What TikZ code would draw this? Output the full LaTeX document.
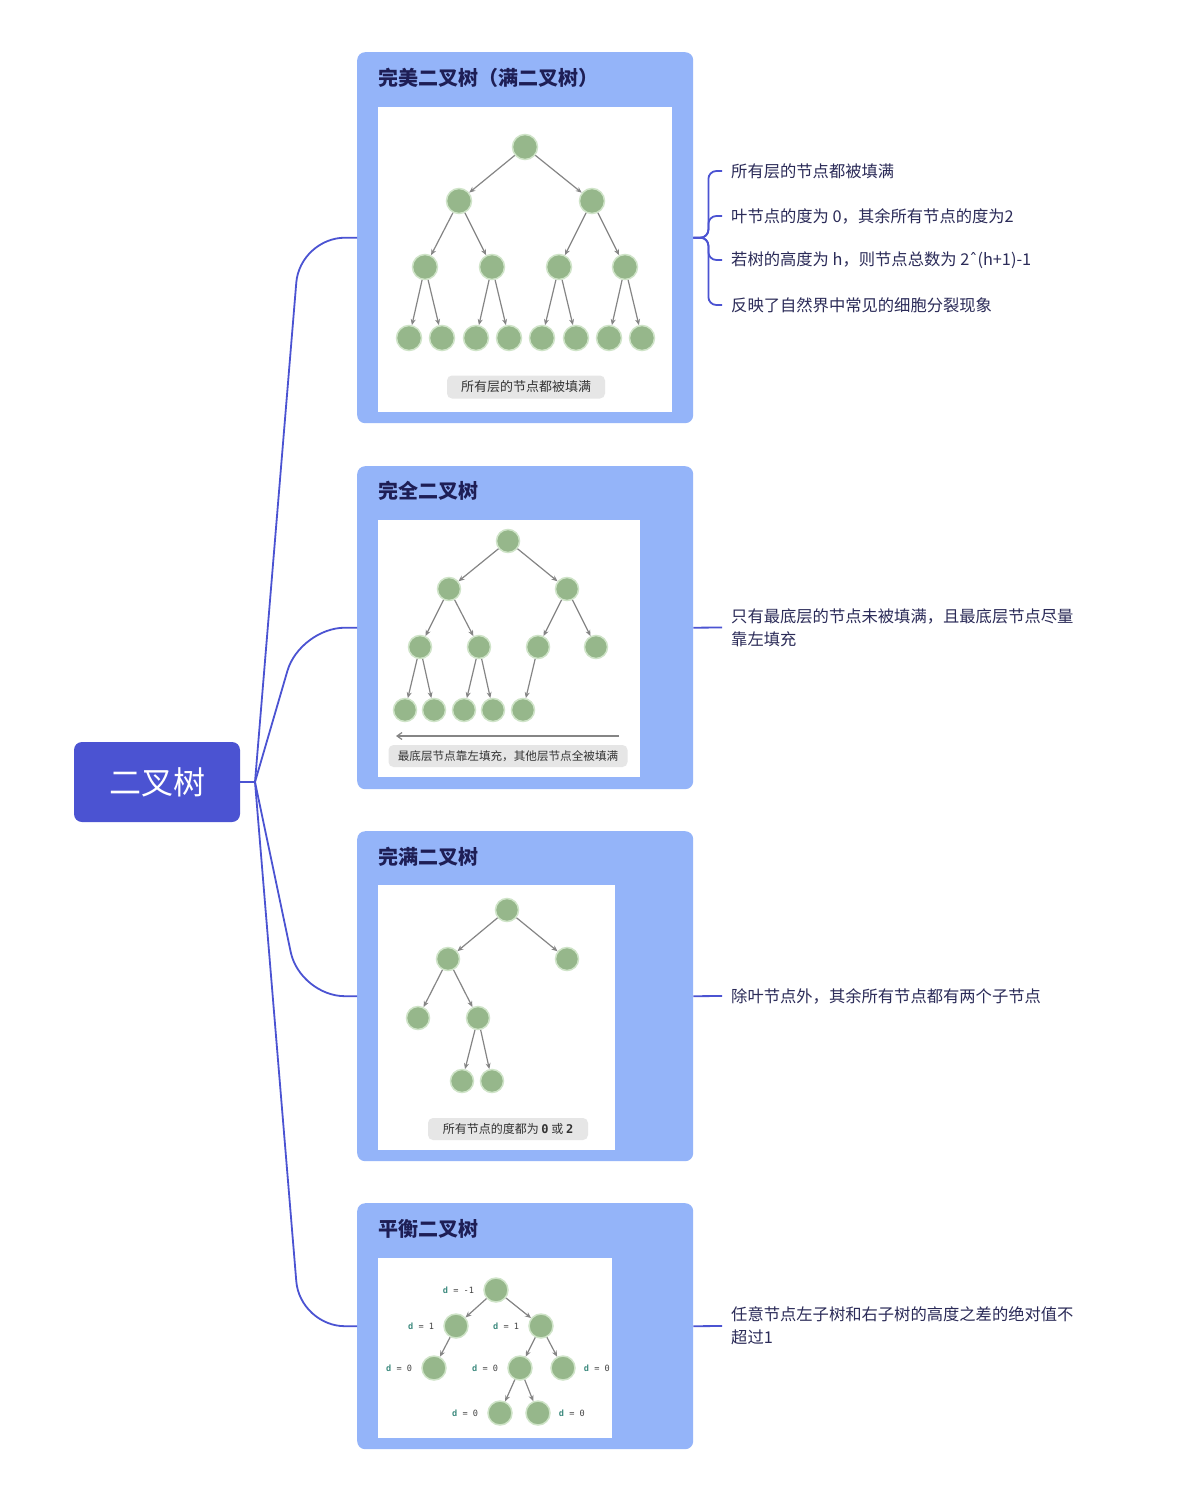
\documentclass[tikz,border=0pt]{standalone}
\usepackage{fontspec}
\setmainfont{Noto Sans CJK SC}
\setmonofont{DejaVu Sans Mono}
\newfontfamily\symfont{DejaVu Sans}
\usetikzlibrary{arrows.meta}
\definecolor{rootblue}{HTML}{4B53D2}
\definecolor{cardblue}{HTML}{94B4F9}
\definecolor{titleink}{HTML}{1E1E55}
\definecolor{textink}{HTML}{2B2B58}
\definecolor{nodefill}{HTML}{96B78B}
\definecolor{nodering}{HTML}{CFE4C8}
\definecolor{edgegrey}{HTML}{858585}
\definecolor{pillgrey}{HTML}{E6E6E6}
\definecolor{pillink}{HTML}{333333}
\definecolor{dteal}{HTML}{3E8B7F}
\definecolor{dgrey}{HTML}{444444}
\begin{document}
\begin{tikzpicture}[x=1pt,y=-1pt,
 rootbox/.style={fill=rootblue, rounded corners=8pt, minimum width=166pt, minimum height=80pt, text=white, font=\fontsize{32}{36}\selectfont, inner sep=0pt},
 card/.style={fill=cardblue, rounded corners=8pt, anchor=north west, inner sep=0pt},
 panel/.style={fill=white, anchor=north west, inner sep=0pt},
 cardtitle/.style={anchor=west, text=titleink, font=\bfseries\fontsize{20}{24}\selectfont, inner sep=0pt},
 tn/.style={circle, fill=nodefill, draw=nodering, line width=1.5pt, inner sep=0pt, minimum size=#1},
 tn/.default=24pt,
 te/.style={draw=edgegrey, line width=1.2pt, -{Stealth[length=6pt,width=5pt]}},
 pill/.style={fill=pillgrey, rounded corners=5pt, text=pillink, inner sep=0pt},
 branch/.style={draw=rootblue, line width=1.8pt, rounded corners=45pt},
 leaf/.style={anchor=west, text=textink, font=\fontsize{16.3}{23}\selectfont, inner xsep=9pt, inner ysep=0pt, align=left},
 twig/.style={draw=rootblue, line width=1.8pt, rounded corners=8pt},
 dl/.style={font=\ttfamily\fontsize{8.6}{10}\selectfont, text=dgrey, inner sep=0pt},
]
\useasboundingbox (0,0) rectangle (1180,1490);
\fill[white] (0,0) rectangle (1180,1490);

% root
\node[rootbox] (root) at (157,782) {二叉树};
\coordinate (hub) at (255,782);

% cards
\node[card, minimum width=336pt, minimum height=371pt] (c1) at (357,52) {};
\node[card, minimum width=336pt, minimum height=323pt] (c2) at (357,466) {};
\node[card, minimum width=336pt, minimum height=330pt] (c3) at (357,831) {};
\node[card, minimum width=336pt, minimum height=246pt] (c4) at (357,1203) {};

\node[panel, minimum width=294pt, minimum height=305pt] (w1) at (378,107) {};
\node[panel, minimum width=262pt, minimum height=257pt] (w2) at (378,520) {};
\node[panel, minimum width=237pt, minimum height=265pt] (w3) at (378,885) {};
\node[panel, minimum width=234pt, minimum height=180pt] (w4) at (378,1258) {};

\node[cardtitle] (t1) at (378,78) {完美二叉树（满二叉树）};
\node[cardtitle] (t2) at (378,491) {完全二叉树};
\node[cardtitle] (t3) at (378,857) {完满二叉树};
\node[cardtitle] (t4) at (378,1229) {平衡二叉树};

% branches from root
\draw[branch] (root.east) -- (hub);
\draw[branch] (hub) -- ([xshift=-57pt]c1.west) -- (c1.west);
\draw[branch] (hub) -- ([xshift=-57pt]c2.west) -- (c2.west);
\draw[branch] (hub) -- ([xshift=-57pt]c3.west) -- (c3.west);
\draw[branch] (hub) -- ([xshift=-57pt]c4.west) -- (c4.west);

% right texts
\node[leaf] (r1a) at (722,171) {所有层的节点都被填满};
\node[leaf] (r1b) at (722,216) {叶节点的度为 0，其余所有节点的度为2};
\node[leaf] (r1c) at (722,260) {若树的高度为 h，则节点总数为 2{\symfont ˆ}(h+1)-1};
\node[leaf] (r1d) at (722,305) {反映了自然界中常见的细胞分裂现象};
\foreach \r in {r1a,r1b,r1c,r1d}
  \draw[twig] (c1.east) -- ([xshift=15pt]c1.east) |- (\r.west);

\node[leaf] (r2) at (722,627.5) {只有最底层的节点未被填满，且最底层节点尽量\\靠左填充};
\draw[twig] (c2.east) -- (r2.west);
\node[leaf] (r3) at (722,996) {除叶节点外，其余所有节点都有两个子节点};
\draw[twig] (c3.east) -- (r3.west);
\node[leaf] (r4) at (722,1326) {任意节点左子树和右子树的高度之差的绝对值不\\超过1};
\draw[twig] (c4.east) -- (r4.west);

% tree 1: perfect
\node[tn=25pt] (p0) at (525,147) {};
\node[tn=25pt] (p1) at (459,201) {};
\node[tn=25pt] (p2) at (592,201) {};
\node[tn=25pt] (p3) at (425,267) {};
\node[tn=25pt] (p4) at (492,267) {};
\node[tn=25pt] (p5) at (559,267) {};
\node[tn=25pt] (p6) at (625,267) {};
\node[tn=25pt] (p7) at (409,338) {};
\node[tn=25pt] (p8) at (442,338) {};
\node[tn=25pt] (p9) at (476,338) {};
\node[tn=25pt] (p10) at (509,338) {};
\node[tn=25pt] (p11) at (542,338) {};
\node[tn=25pt] (p12) at (576,338) {};
\node[tn=25pt] (p13) at (609,338) {};
\node[tn=25pt] (p14) at (642,338) {};
\foreach \a/\b in {p0/p1,p0/p2,p1/p3,p1/p4,p2/p5,p2/p6,p3/p7,p3/p8,p4/p9,p4/p10,p5/p11,p5/p12,p6/p13,p6/p14}
  \draw[te] (\a) -- (\b);
\node[pill, minimum width=158pt, minimum height=23pt, font=\fontsize{13}{15}\selectfont] (cap1) at (526,387) {所有层的节点都被填满};

% tree 2: complete
\node[tn=23pt] (q0) at (508,541) {};
\node[tn=23pt] (q1) at (449,589) {};
\node[tn=23pt] (q2) at (567,589) {};
\node[tn=23pt] (q3) at (420,647) {};
\node[tn=23pt] (q4) at (479,647) {};
\node[tn=23pt] (q5) at (538,647) {};
\node[tn=23pt] (q6) at (596,647) {};
\node[tn=23pt] (q7) at (405,710) {};
\node[tn=23pt] (q8) at (434,710) {};
\node[tn=23pt] (q9) at (464,710) {};
\node[tn=23pt] (q10) at (493,710) {};
\node[tn=23pt] (q11) at (523,710) {};
\foreach \a/\b in {q0/q1,q0/q2,q1/q3,q1/q4,q2/q5,q2/q6,q3/q7,q3/q8,q4/q9,q4/q10,q5/q11}
  \draw[te] (\a) -- (\b);
\coordinate (ar2s) at (619,736);
\coordinate (ar2e) at (396,736);
\draw[draw=edgegrey, line width=1.2pt, -{Straight Barb[length=5pt,width=7pt]}] (ar2s) -- (ar2e);
\node[pill, minimum width=239pt, minimum height=22pt, font=\fontsize{11.6}{14}\selectfont] (cap2) at (508,756) {最底层节点靠左填充，其他层节点全被填满};

% tree 3: full
\node[tn=23pt] (s0) at (507,910) {};
\node[tn=23pt] (s1) at (448,959) {};
\node[tn=23pt] (s2) at (567,959) {};
\node[tn=23pt] (s3) at (418,1018) {};
\node[tn=23pt] (s4) at (478,1018) {};
\node[tn=23pt] (s5) at (462,1081) {};
\node[tn=23pt] (s6) at (492,1081) {};
\foreach \a/\b in {s0/s1,s0/s2,s1/s3,s1/s4,s4/s5,s4/s6}
  \draw[te] (\a) -- (\b);
\node[pill, minimum width=160pt, minimum height=22pt, font=\fontsize{12}{14}\selectfont] (cap3) at (508,1129) {所有节点的度都为 {\ttfamily\bfseries 0} 或 {\ttfamily\bfseries 2}};

% tree 4: balanced
\node[tn=24pt] (b0) at (496,1290) {};
\node[tn=24pt] (b1) at (456,1326) {};
\node[tn=24pt] (b2) at (541,1326) {};
\node[tn=24pt] (b3) at (434,1368) {};
\node[tn=24pt] (b4) at (520,1368) {};
\node[tn=24pt] (b5) at (563,1368) {};
\node[tn=24pt] (b6) at (500,1413) {};
\node[tn=24pt] (b7) at (538,1413) {};
\foreach \a/\b in {b0/b1,b0/b2,b1/b3,b2/b4,b2/b5,b4/b6,b4/b7}
  \draw[te] (\a) -- (\b);
\node[dl, anchor=east] (d0) at ([xshift=-9pt]b0.west) {\textcolor{dteal}{\bfseries d} = -1};
\node[dl, anchor=east] (d1) at ([xshift=-9pt]b1.west) {\textcolor{dteal}{\bfseries d} = 1};
\node[dl, anchor=east] (d2) at ([xshift=-9pt]b2.west) {\textcolor{dteal}{\bfseries d} = 1};
\node[dl, anchor=east] (d3) at ([xshift=-9pt]b3.west) {\textcolor{dteal}{\bfseries d} = 0};
\node[dl, anchor=east] (d4) at ([xshift=-9pt]b4.west) {\textcolor{dteal}{\bfseries d} = 0};
\node[dl, anchor=west] (d5) at ([xshift=8pt]b5.east) {\textcolor{dteal}{\bfseries d} = 0};
\node[dl, anchor=east] (d6) at ([xshift=-9pt]b6.west) {\textcolor{dteal}{\bfseries d} = 0};
\node[dl, anchor=west] (d7) at ([xshift=8pt]b7.east) {\textcolor{dteal}{\bfseries d} = 0};
\end{tikzpicture}
\end{document}
